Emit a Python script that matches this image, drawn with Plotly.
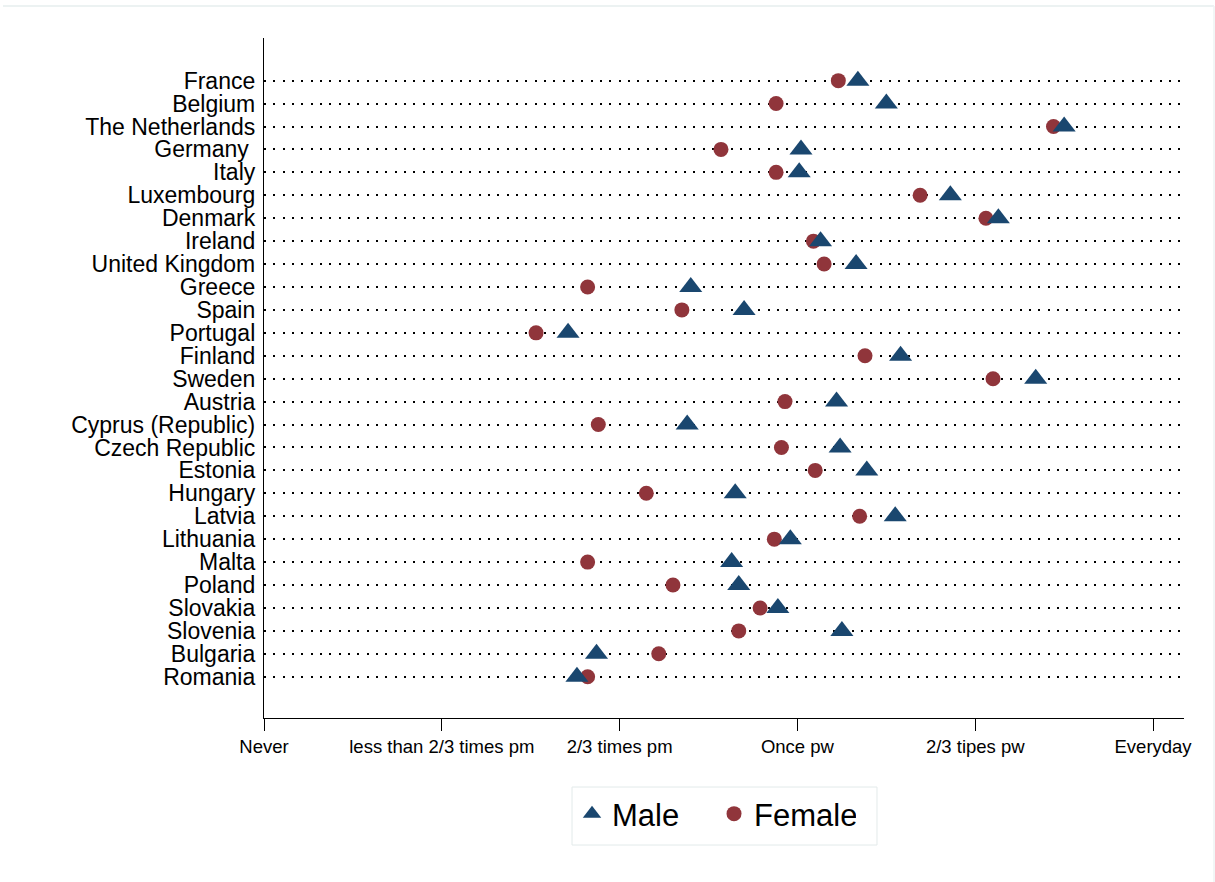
import plotly.graph_objects as go

# Countries listed top to bottom as they appear on the chart
countries = [
    "France", "Belgium", "The Netherlands", "Germany ", "Italy", "Luxembourg",
    "Denmark", "Ireland", "United Kingdom", "Greece", "Spain", "Portugal",
    "Finland", "Sweden", "Austria", "Cyprus (Republic)", "Czech Republic",
    "Estonia", "Hungary", "Latvia", "Lithuania", "Malta", "Poland",
    "Slovakia", "Slovenia", "Bulgaria", "Romania",
]

# Frequency scores (0 = Never ... 5 = Everyday)
male = [
    3.34, 3.50, 4.50, 3.02, 3.01, 3.86,
    4.13, 3.13, 3.33, 2.40, 2.70, 1.71,
    3.58, 4.34, 3.22, 2.38, 3.24,
    3.39, 2.65, 3.55, 2.96, 2.63, 2.67,
    2.89, 3.25, 1.87, 1.76,
]
female = [
    3.23, 2.88, 4.44, 2.57, 2.88, 3.69,
    4.06, 3.09, 3.15, 1.82, 2.35, 1.53,
    3.38, 4.10, 2.93, 1.88, 2.91,
    3.10, 2.15, 3.35, 2.87, 1.82, 2.30,
    2.79, 2.67, 2.22, 1.82,
]

tick_vals = [0, 1, 2, 3, 4, 5]
tick_text = ["Never", "less than 2/3 times pm", "2/3 times pm",
             "Once pw", "2/3 tipes pw", "Everyday"]

NAVY = "#1a476f"
MAROON = "#90353b"
FONT = "Liberation Sans, Arial, Helvetica, sans-serif"

fig = go.Figure()

fig.add_trace(go.Scatter(
    x=female, y=countries, mode="markers", name="Female",
    marker=dict(symbol="circle", size=15, color=MAROON, line=dict(width=0)),
    legendrank=2,
))
fig.add_trace(go.Scatter(
    x=male, y=countries, mode="markers", name="Male",
    marker=dict(symbol="triangle-up", size=20, color=NAVY, line=dict(width=0)),
    legendrank=1,
))

fig.update_xaxes(
    range=[0, 5.174],
    tickvals=tick_vals, ticktext=tick_text,
    showline=True, linecolor="black", linewidth=1.3,
    ticks="outside", ticklen=12, tickwidth=1.3, tickcolor="black",
    showgrid=False, zeroline=False,
    tickfont=dict(family=FONT, size=18.5, color="black"),
    fixedrange=True,
)
fig.update_yaxes(
    type="category",
    categoryorder="array", categoryarray=countries[::-1],
    tickmode="array", tickvals=countries, ticktext=countries,
    range=[-1.80, 27.86],
    showline=True, linecolor="black", linewidth=1.3,
    ticks="", ticklabelstandoff=3,
    showgrid=True, gridcolor="black", gridwidth=2, griddash="2px,7.33px",
    zeroline=False,
    tickfont=dict(family=FONT, size=23, color="black"),
    fixedrange=True,
)

fig.update_layout(
    width=1215, height=882,
    margin=dict(l=264, r=31, t=38, b=164),
    paper_bgcolor="white", plot_bgcolor="white",
    showlegend=True,
    legend=dict(
        orientation="h", x=0.3348, xanchor="left", y=-0.1015, yanchor="top",
        borderwidth=0, bgcolor="rgba(0,0,0,0)",
        font=dict(family=FONT, size=31, color="black"),
        itemsizing="trace", entrywidth=97,
    ),
    shapes=[
        # legend frame
        dict(type="rect", xref="paper", yref="paper",
             x0=0.3348, x1=0.6663, y0=-0.1015, y1=-0.1868,
             line=dict(color="#e3eaea", width=1)),
        # outer frame edges
        dict(type="line", xref="paper", yref="paper",
             x0=-0.2837, x1=1.0326, y0=1.047, y1=1.047,
             line=dict(color="#e6eeee", width=1.5)),
        dict(type="line", xref="paper", yref="paper",
             x0=1.0326, x1=1.0326, y0=1.047, y1=-0.26,
             line=dict(color="#eef3f3", width=1.5)),
    ],
)

fig.write_html("out.html")
